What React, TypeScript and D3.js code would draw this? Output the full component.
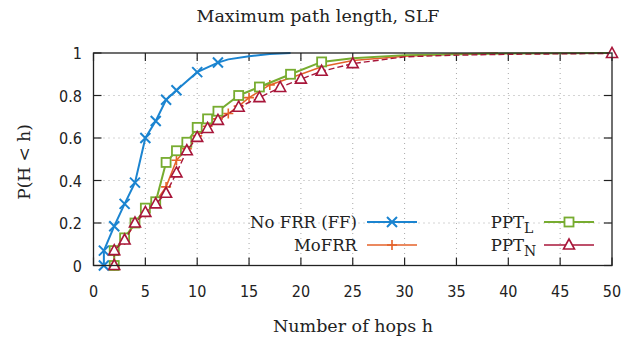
import { useEffect, useRef } from 'react'
import * as d3 from 'd3'

// Values
const X_TICKS = [0, 5, 10, 15, 20, 25, 30, 35, 40, 45, 50]
const Y_TICKS = [0, 0.2, 0.4, 0.6, 0.8, 1]

const noFrrHops = [1, 1, 2, 3, 4, 5, 6, 7, 8, 10, 12, 13, 15, 17, 19]
const noFrrProb = [0, 0.07, 0.185, 0.29, 0.39, 0.6, 0.68, 0.78, 0.825, 0.91, 0.955, 0.97, 0.985, 0.995, 1]
const noFrrMarks = 11

const moFrrHops = [2, 2, 3, 4, 5, 6, 7, 8, 9, 10, 11, 12, 13, 14, 15, 17, 20, 22, 25, 30, 35, 39]
const moFrrProb = [0, 0.07, 0.12, 0.2, 0.25, 0.3, 0.37, 0.495, 0.55, 0.61, 0.655, 0.69, 0.715, 0.75, 0.79, 0.85, 0.9, 0.935, 0.965, 0.985, 0.995, 1]
const moFrrMarks = 16

const pptLHops = [2, 2, 3, 4, 5, 6, 7, 8, 9, 10, 11, 12, 14, 16, 19, 22, 25, 30, 40, 50]
const pptLProb = [0, 0.07, 0.13, 0.2, 0.27, 0.3, 0.485, 0.54, 0.58, 0.65, 0.69, 0.726, 0.8, 0.84, 0.9, 0.958, 0.975, 0.99, 0.998, 1]
const pptLMarks = 16

const pptNHops = [2, 2, 3, 4, 5, 6, 7, 8, 9, 10, 11, 12, 14, 16, 18, 20, 22, 25, 30, 35, 40, 50]
const pptNProb = [0, 0.07, 0.12, 0.2, 0.25, 0.29, 0.34, 0.436, 0.54, 0.603, 0.645, 0.683, 0.745, 0.79, 0.838, 0.877, 0.914, 0.95, 0.982, 0.99, 0.994, 0.998]
const pptNMarks = [true, true, true, true, true, true, true, true, true, true, true, true, true, true, true, true, true, true, false, false, false, true]

type Marker = 'cross' | 'plus' | 'square' | 'triangle'

interface Series {
  label: string
  sub?: string
  color: string
  marker: Marker
  dash?: string
  width: number
  hops: number[]
  prob: number[]
  marked: (i: number) => boolean
}

const SERIES: Series[] = [
  { label: 'No FRR (FF)', color: '#1b84d0', marker: 'cross', width: 2, hops: noFrrHops, prob: noFrrProb, marked: i => i < noFrrMarks },
  { label: 'MoFRR', color: '#e4622a', marker: 'plus', width: 1.6, hops: moFrrHops, prob: moFrrProb, marked: i => i < moFrrMarks },
  { label: 'PPT', sub: 'L', color: '#77ac30', marker: 'square', width: 2, hops: pptLHops, prob: pptLProb, marked: i => i < pptLMarks },
  { label: 'PPT', sub: 'N', color: '#a8163a', marker: 'triangle', dash: '6,3', width: 1.4, hops: pptNHops, prob: pptNProb, marked: i => pptNMarks[i] }
]

const SERIF = '"DejaVu Serif", "Liberation Serif", serif'
const SANS = '"DejaVu Sans Condensed", "Liberation Sans Narrow", sans-serif'

function drawMarker(g: d3.Selection<SVGGElement, unknown, null, undefined>, kind: Marker, cx: number, cy: number, color: string) {
  const s = 5
  if (kind === 'cross') {
    g.append('path')
      .attr('d', `M${cx - s},${cy - s}L${cx + s},${cy + s}M${cx - s},${cy + s}L${cx + s},${cy - s}`)
      .attr('stroke', color).attr('stroke-width', 2).attr('fill', 'none')
  } else if (kind === 'plus') {
    g.append('path')
      .attr('d', `M${cx - s},${cy}L${cx + s},${cy}M${cx},${cy - s}L${cx},${cy + s}`)
      .attr('stroke', color).attr('stroke-width', 1.6).attr('fill', 'none')
  } else if (kind === 'square') {
    g.append('rect')
      .attr('x', cx - 4.5).attr('y', cy - 4.5).attr('width', 9).attr('height', 9)
      .attr('stroke', color).attr('stroke-width', 1.8).attr('fill', 'white')
  } else {
    g.append('path')
      .attr('d', `M${cx},${cy - 6}L${cx + 5.5},${cy + 4}L${cx - 5.5},${cy + 4}Z`)
      .attr('stroke', color).attr('stroke-width', 1.6).attr('fill', 'white')
  }
}

export default function App() {
  const ref = useRef<SVGSVGElement>(null)

  useEffect(() => {
    if (!ref.current) return
    document.body.style.margin = '0'

    const svg = d3.select(ref.current)
    svg.selectAll('*').remove()

    const left = 93.5, right = 612, top = 53, bottom = 265.5
    const x = d3.scaleLinear().domain([0, 50]).range([left, right])
    const y = d3.scaleLinear().domain([0, 1]).range([bottom, top])

    svg.append('rect').attr('width', 636).attr('height', 343).attr('fill', 'white')

    // dotted grid
    const grid = svg.append('g').attr('stroke', '#a8a8a8').attr('stroke-width', 1).attr('stroke-dasharray', '1,4')
    X_TICKS.slice(1, -1).forEach(t => {
      grid.append('line').attr('x1', x(t)).attr('x2', x(t)).attr('y1', top).attr('y2', bottom)
    })
    Y_TICKS.slice(1, -1).forEach(t => {
      grid.append('line').attr('x1', left).attr('x2', right).attr('y1', y(t)).attr('y2', y(t))
    })

    // ticks (inward, mirrored)
    const ticks = svg.append('g').attr('stroke', '#222').attr('stroke-width', 1.2)
    X_TICKS.forEach(t => {
      ticks.append('line').attr('x1', x(t)).attr('x2', x(t)).attr('y1', bottom).attr('y2', bottom - 8)
      ticks.append('line').attr('x1', x(t)).attr('x2', x(t)).attr('y1', top).attr('y2', top + 8)
    })
    Y_TICKS.forEach(t => {
      ticks.append('line').attr('x1', left).attr('x2', left + 8).attr('y1', y(t)).attr('y2', y(t))
      ticks.append('line').attr('x1', right).attr('x2', right - 8).attr('y1', y(t)).attr('y2', y(t))
    })

    // tick labels
    svg.append('g').selectAll('text').data(X_TICKS).join('text')
      .attr('x', d => x(d)).attr('y', 297)
      .attr('text-anchor', 'middle')
      .attr('font-family', SANS).attr('font-size', 16).attr('fill', '#222')
      .text(d => String(d))
    svg.append('g').selectAll('text').data(Y_TICKS).join('text')
      .attr('x', 82).attr('y', d => y(d) + 6)
      .attr('text-anchor', 'end')
      .attr('font-family', SANS).attr('font-size', 16).attr('fill', '#222')
      .text(d => String(d))

    // series
    SERIES.forEach(s => {
      const pts = s.hops.map((h, i) => [h, s.prob[i]] as [number, number])
      const line = d3.line<[number, number]>().x(d => x(d[0])).y(d => y(d[1]))
      svg.append('path')
        .attr('d', line(pts))
        .attr('fill', 'none')
        .attr('stroke', s.color)
        .attr('stroke-width', s.width)
        .attr('stroke-dasharray', s.dash ?? null)
      const mg = svg.append('g')
      pts.forEach((p, i) => {
        if (s.marked(i)) drawMarker(mg, s.marker, x(p[0]), y(p[1]), s.color)
      })
    })

    // frame
    svg.append('rect')
      .attr('x', left).attr('y', top).attr('width', right - left).attr('height', bottom - top)
      .attr('fill', 'none').attr('stroke', '#222').attr('stroke-width', 1.3)

    // legend
    const legendPos = [
      { tx: 357, sx: 367, y: 222 },
      { tx: 357, sx: 367, y: 245 },
      { tx: 535, sx: 544, y: 222 },
      { tx: 535, sx: 544, y: 245 }
    ]
    SERIES.forEach((s, i) => {
      const p = legendPos[i]
      svg.append('text')
        .attr('x', p.tx - (s.sub ? 11 : 0)).attr('y', p.y + 5.5)
        .attr('text-anchor', 'end')
        .attr('font-family', SERIF).attr('font-size', 16.5).attr('fill', '#222')
        .text(s.label)
      if (s.sub) {
        svg.append('text')
          .attr('x', p.tx - 11).attr('y', p.y + 10.5)
          .attr('font-family', SERIF).attr('font-size', 14).attr('fill', '#222')
          .text(s.sub)
      }
      svg.append('line')
        .attr('x1', p.sx).attr('x2', p.sx + 50).attr('y1', p.y).attr('y2', p.y)
        .attr('stroke', s.color).attr('stroke-width', s.width)
      drawMarker(svg.append('g'), s.marker, p.sx + 25, p.y, s.color)
    })

    // titles
    svg.append('text')
      .attr('x', 318).attr('y', 22).attr('text-anchor', 'middle')
      .attr('font-family', SERIF).attr('font-size', 17.5).attr('fill', '#222')
      .text('Maximum path length, SLF')
    svg.append('text')
      .attr('x', 353).attr('y', 332).attr('text-anchor', 'middle')
      .attr('font-family', SERIF).attr('font-size', 17.5).attr('fill', '#222')
      .text('Number of hops h')
    svg.append('text')
      .attr('transform', 'translate(30,162) rotate(-90)')
      .attr('text-anchor', 'middle')
      .attr('font-family', SERIF).attr('font-size', 17).attr('fill', '#222')
      .text('P(H < h)')
  }, [])

  return (
    <svg ref={ref} width={636} height={343} style={{ display: 'block', position: 'absolute', left: 0, top: 0 }} />
  )
}
